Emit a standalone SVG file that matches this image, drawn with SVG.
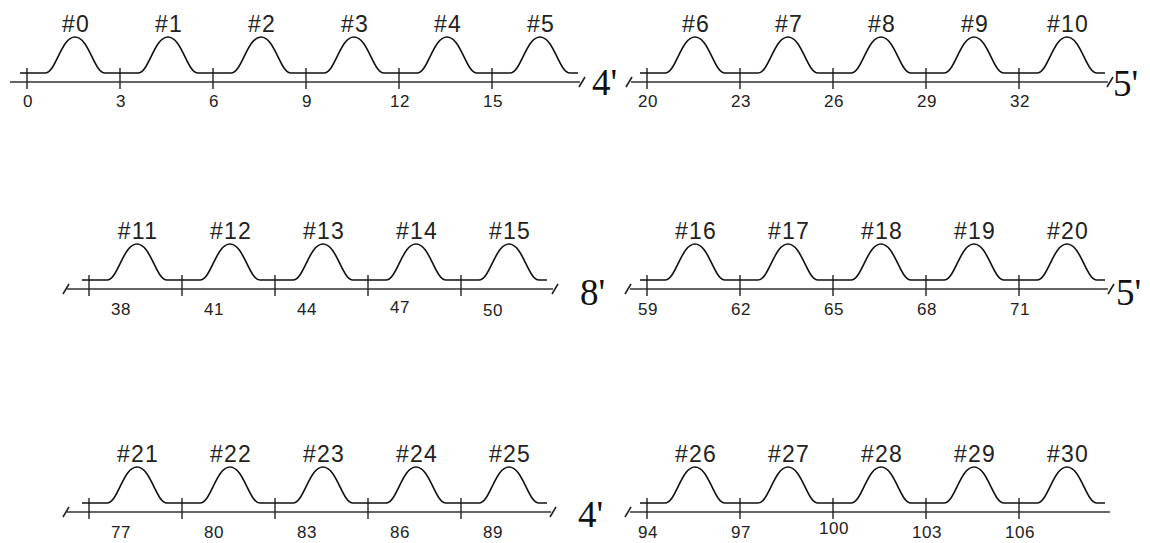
<svg xmlns="http://www.w3.org/2000/svg" width="1150" height="543" viewBox="0 0 1150 543">
<style>
.ax{stroke:#333;stroke-width:1.6;fill:none}
.tk{stroke:#222;stroke-width:1.4}
.pl{stroke:#111;stroke-width:1.6;fill:none}
.sl{stroke:#222;stroke-width:1.6}
.lb{font-family:"Liberation Sans",Arial,sans-serif;font-size:23px;letter-spacing:1.2px;fill:#222;text-anchor:middle}
.tn{font-family:"Liberation Sans",Arial,sans-serif;font-size:17px;letter-spacing:0.6px;fill:#222;text-anchor:middle}
.pr{font-family:"Liberation Serif","Times New Roman",serif;font-size:37px;fill:#111}
</style>
<defs>
<path id="pulse" d="M -7,-9 H 18 C 29,-9 34,-45 48,-45 C 62,-45 67,-9 78,-9 H 86"/>
<line id="tick" x1="0" y1="-14" x2="0" y2="7"/>
<line id="slash" x1="-3" y1="5" x2="3" y2="-5"/>
</defs>

<g id="axes">
<line class="ax" x1="10" y1="82" x2="580" y2="82"/>
<use href="#slash" class="sl" x="582" y="82"/>
<use href="#slash" class="sl" x="629" y="82"/>
<line class="ax" x1="631" y1="82" x2="1108" y2="82"/>
<use href="#slash" class="sl" x="1110" y="82"/>

<use href="#slash" class="sl" x="66" y="289"/>
<line class="ax" x1="67" y1="289" x2="553" y2="289"/>
<use href="#slash" class="sl" x="555" y="289"/>
<use href="#slash" class="sl" x="628" y="289"/>
<line class="ax" x1="630" y1="289" x2="1108" y2="289"/>
<use href="#slash" class="sl" x="1111" y="289"/>

<use href="#slash" class="sl" x="66" y="512"/>
<line class="ax" x1="67" y1="512" x2="551" y2="512"/>
<use href="#slash" class="sl" x="553" y="512"/>
<use href="#slash" class="sl" x="628" y="512"/>
<line class="ax" x1="630" y1="512" x2="1110" y2="512"/>
</g>

<g id="row1-left">
<g id="p0"><use href="#tick" class="tk" x="27" y="82"/><use href="#pulse" class="pl" x="27" y="82"/><text class="lb" x="76" y="32">#0</text><text class="tn" x="28" y="107">0</text></g>
<g id="p1"><use href="#tick" class="tk" x="120" y="82"/><use href="#pulse" class="pl" x="120" y="82"/><text class="lb" x="169" y="32">#1</text><text class="tn" x="121" y="107">3</text></g>
<g id="p2"><use href="#tick" class="tk" x="213" y="82"/><use href="#pulse" class="pl" x="213" y="82"/><text class="lb" x="262" y="32">#2</text><text class="tn" x="214" y="107">6</text></g>
<g id="p3"><use href="#tick" class="tk" x="306" y="82"/><use href="#pulse" class="pl" x="306" y="82"/><text class="lb" x="355" y="32">#3</text><text class="tn" x="307" y="107">9</text></g>
<g id="p4"><use href="#tick" class="tk" x="399" y="82"/><use href="#pulse" class="pl" x="399" y="82"/><text class="lb" x="448" y="32">#4</text><text class="tn" x="400" y="107">12</text></g>
<g id="p5"><use href="#tick" class="tk" x="492" y="82"/><use href="#pulse" class="pl" x="492" y="82"/><text class="lb" x="541" y="32">#5</text><text class="tn" x="493" y="107">15</text></g>
<text class="pr" x="592" y="95">4'</text>
</g>

<g id="row1-right">
<g id="p6"><use href="#tick" class="tk" x="647" y="82"/><use href="#pulse" class="pl" x="647" y="82"/><text class="lb" x="696" y="32">#6</text><text class="tn" x="648" y="107">20</text></g>
<g id="p7"><use href="#tick" class="tk" x="740" y="82"/><use href="#pulse" class="pl" x="740" y="82"/><text class="lb" x="789" y="32">#7</text><text class="tn" x="741" y="107">23</text></g>
<g id="p8"><use href="#tick" class="tk" x="833" y="82"/><use href="#pulse" class="pl" x="833" y="82"/><text class="lb" x="882" y="32">#8</text><text class="tn" x="834" y="107">26</text></g>
<g id="p9"><use href="#tick" class="tk" x="926" y="82"/><use href="#pulse" class="pl" x="926" y="82"/><text class="lb" x="975" y="32">#9</text><text class="tn" x="927" y="107">29</text></g>
<g id="p10"><use href="#tick" class="tk" x="1019" y="82"/><use href="#pulse" class="pl" x="1019" y="82"/><text class="lb" x="1068" y="32">#10</text><text class="tn" x="1020" y="107">32</text></g>
<text class="pr" x="1113" y="96">5'</text>
</g>

<g id="row2-left">
<g id="p11"><use href="#tick" class="tk" x="89" y="289"/><use href="#pulse" class="pl" x="89" y="289"/><text class="lb" x="138" y="239">#11</text><text class="tn" x="121" y="315">38</text></g>
<g id="p12"><use href="#tick" class="tk" x="182" y="289"/><use href="#pulse" class="pl" x="182" y="289"/><text class="lb" x="231" y="239">#12</text><text class="tn" x="214" y="315">41</text></g>
<g id="p13"><use href="#tick" class="tk" x="275" y="289"/><use href="#pulse" class="pl" x="275" y="289"/><text class="lb" x="324" y="239">#13</text><text class="tn" x="307" y="315">44</text></g>
<g id="p14"><use href="#tick" class="tk" x="368" y="289"/><use href="#pulse" class="pl" x="368" y="289"/><text class="lb" x="417" y="239">#14</text><text class="tn" x="400" y="313">47</text></g>
<g id="p15"><use href="#tick" class="tk" x="461" y="289"/><use href="#pulse" class="pl" x="461" y="289"/><text class="lb" x="510" y="239">#15</text><text class="tn" x="493" y="316">50</text></g>
<text class="pr" x="580" y="305">8'</text>
</g>

<g id="row2-right">
<g id="p16"><use href="#tick" class="tk" x="647" y="289"/><use href="#pulse" class="pl" x="647" y="289"/><text class="lb" x="696" y="239">#16</text><text class="tn" x="648" y="315">59</text></g>
<g id="p17"><use href="#tick" class="tk" x="740" y="289"/><use href="#pulse" class="pl" x="740" y="289"/><text class="lb" x="789" y="239">#17</text><text class="tn" x="741" y="315">62</text></g>
<g id="p18"><use href="#tick" class="tk" x="833" y="289"/><use href="#pulse" class="pl" x="833" y="289"/><text class="lb" x="882" y="239">#18</text><text class="tn" x="834" y="315">65</text></g>
<g id="p19"><use href="#tick" class="tk" x="926" y="289"/><use href="#pulse" class="pl" x="926" y="289"/><text class="lb" x="975" y="239">#19</text><text class="tn" x="927" y="315">68</text></g>
<g id="p20"><use href="#tick" class="tk" x="1019" y="289"/><use href="#pulse" class="pl" x="1019" y="289"/><text class="lb" x="1068" y="239">#20</text><text class="tn" x="1020" y="315">71</text></g>
<text class="pr" x="1116" y="305">5'</text>
</g>

<g id="row3-left">
<g id="p21"><use href="#tick" class="tk" x="89" y="512"/><use href="#pulse" class="pl" x="89" y="512"/><text class="lb" x="138" y="462">#21</text><text class="tn" x="121" y="538">77</text></g>
<g id="p22"><use href="#tick" class="tk" x="182" y="512"/><use href="#pulse" class="pl" x="182" y="512"/><text class="lb" x="231" y="462">#22</text><text class="tn" x="214" y="538">80</text></g>
<g id="p23"><use href="#tick" class="tk" x="275" y="512"/><use href="#pulse" class="pl" x="275" y="512"/><text class="lb" x="324" y="462">#23</text><text class="tn" x="307" y="538">83</text></g>
<g id="p24"><use href="#tick" class="tk" x="368" y="512"/><use href="#pulse" class="pl" x="368" y="512"/><text class="lb" x="417" y="462">#24</text><text class="tn" x="400" y="538">86</text></g>
<g id="p25"><use href="#tick" class="tk" x="461" y="512"/><use href="#pulse" class="pl" x="461" y="512"/><text class="lb" x="510" y="462">#25</text><text class="tn" x="493" y="538">89</text></g>
<text class="pr" x="578" y="527">4'</text>
</g>

<g id="row3-right">
<g id="p26"><use href="#tick" class="tk" x="647" y="512"/><use href="#pulse" class="pl" x="647" y="512"/><text class="lb" x="696" y="462">#26</text><text class="tn" x="648" y="538">94</text></g>
<g id="p27"><use href="#tick" class="tk" x="740" y="512"/><use href="#pulse" class="pl" x="740" y="512"/><text class="lb" x="789" y="462">#27</text><text class="tn" x="741" y="538">97</text></g>
<g id="p28"><use href="#tick" class="tk" x="833" y="512"/><use href="#pulse" class="pl" x="833" y="512"/><text class="lb" x="882" y="462">#28</text><text class="tn" x="834" y="534">100</text></g>
<g id="p29"><use href="#tick" class="tk" x="926" y="512"/><use href="#pulse" class="pl" x="926" y="512"/><text class="lb" x="975" y="462">#29</text><text class="tn" x="927" y="538">103</text></g>
<g id="p30"><use href="#tick" class="tk" x="1019" y="512"/><use href="#pulse" class="pl" x="1019" y="512"/><text class="lb" x="1068" y="462">#30</text><text class="tn" x="1020" y="538">106</text></g>
</g>
</svg>
